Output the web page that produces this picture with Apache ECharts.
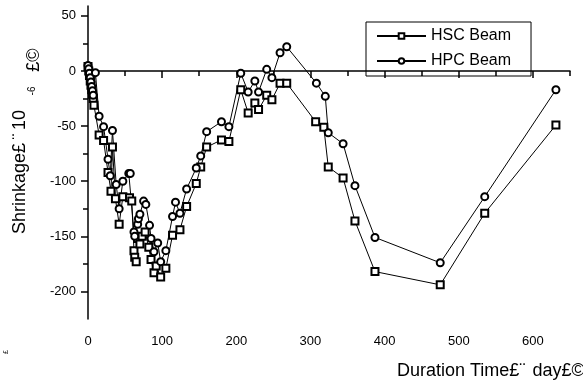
<!DOCTYPE html>
<html>
<head>
<meta charset="utf-8">
<script src="https://cdn.jsdelivr.net/npm/echarts@6/dist/echarts.min.js"></script>
<style>html,body{margin:0;padding:0;background:#fff}#c{width:583px;height:383px}</style>
</head>
<body>
<div id="c"></div>
<script>
var hscDays   = [0,1,2,3,4,5,6,7,8,15,21,27,31,33,37,42,47,56,59,62,63,65,67,70,73,77,82,85,89,92,98,105,114,124,133,146,152,160,180,190,206,216,225,230,241,248,259,268,307,318,324,344,360,387,475,535,631];
var hscShrink = [4,0,-4,-9,-13,-17,-21,-25,-31,-58,-63,-92,-109,-69,-116,-139,-114,-115,-118,-163,-169,-173,-152,-157,-150,-146,-160,-171,-183,-177,-187,-179,-149,-144,-123,-102,-87,-69,-62.5,-64,-17,-38,-29,-35,-22,-26,-11,-11,-46,-51,-87,-97,-136,-182,-194,-129,-49];
var hpcDays   = [0,1,2,3,4,5,6,7,10,15,21,27,30,33,38,42,47,55,57,62,63,67,68,70,75,78,83,85,89,94,98,105,114,118,124,133,146,152,160,180,190,206,216,225,230,241,248,259,268,308,320,324,344,360,387,475,535,631];
var hpcShrink = [5,2,-2,-6,-10,-14,-18,-22,-1.5,-41,-50.5,-80,-95,-54,-103,-125,-100,-93,-93,-146,-150,-139,-134,-130,-118,-121,-140,-152,-164,-156,-173,-163,-132,-119,-129,-107,-88,-77,-55,-46,-50.5,-2,-19,-9,-19,1.5,-6,16.6,22,-11,-23,-56,-66,-104,-151,-174,-114,-17];
var seriesNames = ['HSC Beam','HPC Beam'];
var xMajor = [0,100,200,300,400,500,600];
var xMinor = [50,150,250,350,450,550,650];
var yMajor = [-200,-150,-100,-50,0,50];
var yMinor = [-175,-125,-75,-25,25];

function pairs(xs, ys){ return xs.map(function(x,i){ return [x, ys[i]]; }); }

var FONT = '"Liberation Sans", Arial, sans-serif';
var chart = echarts.init(document.getElementById('c'), null, {renderer:'canvas'});
var lineAxis = {show:true, lineStyle:{color:'#000', width:1.5}};
var titleRich = {
  a:{font:'18px '+FONT, fill:'#000', color:'#000'},
  b:{font:'18px '+FONT, fill:'#000', color:'#000', width:13, align:'left'}
};
chart.setOption({
  animation:false,
  backgroundColor:'#fff',
  grid:{left:88, right:13, top:6, bottom:64, containLabel:false},
  xAxis:[
    {type:'value', min:0, max:650, position:'bottom',
     axisLine:lineAxis, splitLine:{show:false},
     axisTick:{show:true, customValues:xMajor, length:7, lineStyle:{color:'#000', width:1.5}},
     axisLabel:{customValues:xMajor, margin:16, color:'#000', fontSize:13, fontFamily:FONT}},
    {type:'value', min:0, max:650, position:'bottom',
     axisLine:{show:false}, splitLine:{show:false}, axisLabel:{show:false},
     axisTick:{show:true, customValues:xMinor, length:5, lineStyle:{color:'#000', width:1.5}}}
  ],
  yAxis:[
    {type:'value', min:-225, max:59, position:'left',
     axisLine:lineAxis, splitLine:{show:false},
     axisTick:{show:true, customValues:yMajor, length:7, lineStyle:{color:'#000', width:1.5}},
     axisLabel:{customValues:yMajor, margin:12, color:'#000', fontSize:13, fontFamily:FONT}},
    {type:'value', min:-225, max:59, position:'left',
     axisLine:{show:false}, splitLine:{show:false}, axisLabel:{show:false},
     axisTick:{show:true, customValues:yMinor, length:5, lineStyle:{color:'#000', width:1.5}}}
  ],
  legend:{
    left:366, top:22, orient:'vertical',
    borderColor:'#000', borderWidth:1, padding:[6,20,7,10],
    itemWidth:49, itemHeight:7, itemGap:9,
    textStyle:{color:'#000', fontSize:16, fontFamily:FONT},
    data:seriesNames
  },
  series:[
    {name:seriesNames[0], type:'line', xAxisIndex:0, yAxisIndex:0,
     data:pairs(hscDays, hscShrink), symbol:'emptyRect', symbolSize:7,
     lineStyle:{color:'#000', width:1}, itemStyle:{color:'#000', borderColor:'#000', borderWidth:1}},
    {name:seriesNames[1], type:'line', xAxisIndex:0, yAxisIndex:0,
     data:pairs(hpcDays, hpcShrink), symbol:'emptyCircle', symbolSize:7,
     lineStyle:{color:'#000', width:1}, itemStyle:{color:'#000', borderColor:'#000', borderWidth:1}}
  ],
  graphic:[
    {type:'text', x:20, y:172, rotation:Math.PI/2,
     style:{text:'{a|Shrinkage£}{b|¨}{a|10}', rich:titleRich, align:'center', verticalAlign:'middle'}},
    {type:'text', x:32, y:91, rotation:Math.PI/2,
     style:{text:'-6', font:'10px '+FONT, fill:'#000', align:'center', verticalAlign:'middle'}},
    {type:'text', x:34, y:60, rotation:Math.PI/2,
     style:{text:'£©', font:'18px '+FONT, fill:'#000', align:'center', verticalAlign:'middle'}},
    {type:'text', x:6, y:352, rotation:Math.PI/2,
     style:{text:'£', font:'7px '+FONT, fill:'#000', align:'center', verticalAlign:'middle'}},
    {type:'text', x:397, y:371,
     style:{text:'{a|Duration Time£}{b|¨}{a|day£©}', rich:titleRich, align:'left', verticalAlign:'middle'}}
  ]
});
</script>
</body>
</html>
